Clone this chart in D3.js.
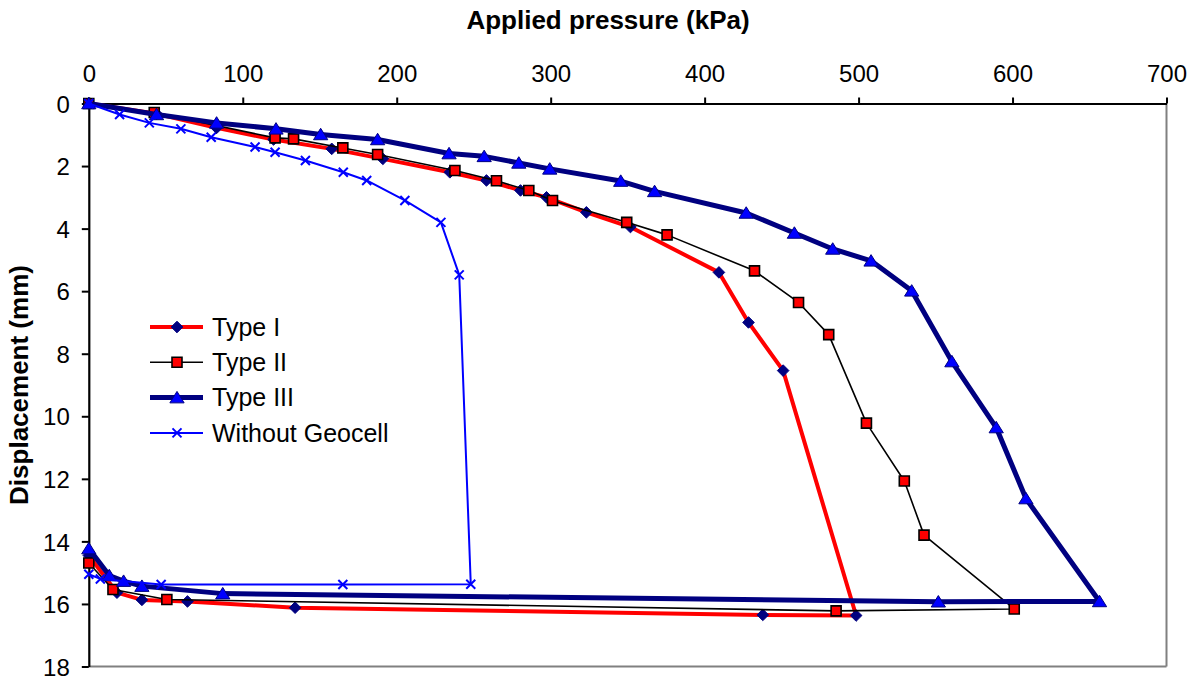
<!DOCTYPE html>
<html>
<head>
<meta charset="utf-8">
<script src="https://cdn.jsdelivr.net/npm/d3@7"></script>
<style>
  html, body { margin: 0; padding: 0; background: #fff; }
  svg { display: block; font-family: "Liberation Sans", Arial, sans-serif; }
</style>
</head>
<body>
<svg id="chart" width="1194" height="682"></svg>
<script>
// Load–displacement curves (loading then unloading)
const seriesNames = ["Type I", "Type II", "Type III", "Without Geocell"];

const typeIPressure = [0, 44, 83, 120, 157.8, 191, 234.5, 258.3, 280.4, 297.3, 323.2, 351.8, 409.3, 428.5, 451, 498.4, 437.8, 134, 64.1, 34.5, 18.3, 0];
const typeIDisp     = [0, 0.33, 0.78, 1.15, 1.45, 1.77, 2.2, 2.46, 2.78, 3.0, 3.48, 3.95, 5.40, 7.0, 8.54, 16.37, 16.35, 16.12, 15.92, 15.87, 15.64, 14.45];

const typeIIPressure = [0, 42.5, 121, 133, 165, 187.6, 237.8, 264.8, 285.8, 301.2, 349.4, 375.6, 432.4, 461, 480.6, 505.1, 529.7, 542.5, 601.1, 485.4, 50.7, 15.7, 0];
const typeIIDisp     = [0, 0.29, 1.10, 1.13, 1.42, 1.63, 2.14, 2.47, 2.78, 3.1, 3.8, 4.2, 5.35, 6.36, 7.39, 10.22, 12.07, 13.8, 16.16, 16.22, 15.86, 15.54, 14.69];

const typeIIIPressure = [0, 44, 83, 121.6, 150.6, 187.6, 234, 256.8, 279.3, 299.4, 345.5, 367.5, 427, 458.3, 483.2, 508.1, 534.5, 560.6, 589.4, 608.7, 656.5, 551.8, 87, 34.5, 22.6, 13.3, 0];
const typeIIIDisp     = [0, 0.35, 0.62, 0.81, 0.99, 1.15, 1.6, 1.69, 1.9, 2.09, 2.48, 2.81, 3.5, 4.14, 4.65, 5.03, 5.99, 8.25, 10.36, 12.63, 15.92, 15.93, 15.67, 15.43, 15.27, 15.09, 14.23];

const noCellPressure = [0, 20, 39.3, 59.8, 79.5, 108, 121, 140.7, 165.3, 180.5, 205.3, 228.7, 240.6, 248.1, 165, 47, 7.5, 0];
const noCellDisp     = [0, 0.35, 0.62, 0.81, 1.08, 1.39, 1.56, 1.82, 2.2, 2.46, 3.1, 3.8, 5.48, 15.37, 15.38, 15.38, 15.2, 15.05];

const pressureTicks = [0, 100, 200, 300, 400, 500, 600, 700];
const dispTicks = [0, 2, 4, 6, 8, 10, 12, 14, 16, 18];

// Plot area bounds
const plotLeft = 88.8, plotRight = 1166.5, plotTop = 103.5, plotBottom = 666.5;

const svg = d3.select("#chart");
const x = d3.scaleLinear().domain([0, 700]).range([plotLeft, plotRight]);
const y = d3.scaleLinear().domain([0, 18]).range([plotTop, plotBottom]);

// Plot frame: grey right / bottom edges
svg.append("line").attr("x1", plotRight).attr("x2", plotRight).attr("y1", plotTop).attr("y2", plotBottom)
  .attr("stroke", "#808080").attr("stroke-width", 2);
svg.append("line").attr("x1", plotLeft).attr("x2", plotRight).attr("y1", plotBottom).attr("y2", plotBottom)
  .attr("stroke", "#808080").attr("stroke-width", 2);

// Axes
const xAxis = d3.axisTop(x).tickValues(pressureTicks).tickSize(6).tickPadding(16).tickSizeOuter(0);
const yAxis = d3.axisLeft(y).tickValues(dispTicks).tickSize(7).tickPadding(12).tickSizeOuter(0);

const gx = svg.append("g").attr("transform", `translate(0,${plotTop})`).call(xAxis);
const gy = svg.append("g").attr("transform", `translate(${plotLeft},0)`).call(yAxis);
[gx, gy].forEach(g => {
  g.select(".domain").attr("stroke", "#000").attr("stroke-width", 2.2);
  g.selectAll(".tick line").attr("stroke", "#000").attr("stroke-width", 2);
  g.selectAll(".tick text").attr("fill", "#000").style("font-size", "24px")
    .style("font-family", "'Liberation Sans', Arial, sans-serif");
});
gx.selectAll(".tick text").attr("dy", "0");
gy.selectAll(".tick text").attr("dy", "0.36em");

// Axis titles
svg.append("text").attr("x", 608).attr("y", 29).attr("text-anchor", "middle")
  .style("font-size", "26px").style("font-weight", "bold").text("Applied pressure (kPa)");
svg.append("text").attr("transform", "translate(28,385) rotate(-90)").attr("text-anchor", "middle")
  .style("font-size", "26px").style("font-weight", "bold").text("Displacement (mm)");

// Marker shapes
function markerPath(kind, s) {
  const p = d3.path();
  if (kind === "diamond") {
    p.moveTo(0, -s); p.lineTo(s, 0); p.lineTo(0, s); p.lineTo(-s, 0); p.closePath();
  } else if (kind === "square") {
    p.rect(-s, -s, 2 * s, 2 * s);
  } else if (kind === "triangle") {
    p.moveTo(0, -s); p.lineTo(s * 1.15, s * 0.85); p.lineTo(-s * 1.15, s * 0.85); p.closePath();
  } else if (kind === "cross") {
    p.moveTo(-s, -s); p.lineTo(s, s); p.moveTo(s, -s); p.lineTo(-s, s);
  }
  return p.toString();
}

const series = [
  { name: seriesNames[0], px: typeIPressure, dy: typeIDisp, line: "#FF0000", lw: 4,
    marker: "diamond", ms: 5.8, fill: "#000080", mstroke: "#000080", msw: 1 },
  { name: seriesNames[1], px: typeIIPressure, dy: typeIIDisp, line: "#000000", lw: 1.6,
    marker: "square", ms: 5, fill: "#FF0000", mstroke: "#000000", msw: 1.6 },
  { name: seriesNames[2], px: typeIIIPressure, dy: typeIIIDisp, line: "#000080", lw: 5,
    marker: "triangle", ms: 6.2, fill: "#0000FF", mstroke: "#000080", msw: 1 },
  { name: seriesNames[3], px: noCellPressure, dy: noCellDisp, line: "#0000FF", lw: 2,
    marker: "cross", ms: 4.5, fill: "none", mstroke: "#0000FF", msw: 2 }
];

const lineGen = d3.line().x(d => x(d[0])).y(d => y(d[1]));

series.forEach(s => {
  const pts = s.px.map((v, i) => [v, s.dy[i]]);
  const g = svg.append("g");
  g.append("path").attr("d", lineGen(pts)).attr("fill", "none")
    .attr("stroke", s.line).attr("stroke-width", s.lw).attr("stroke-linejoin", "round");
  g.selectAll("path.mk").data(pts).join("path").attr("class", "mk")
    .attr("transform", d => `translate(${x(d[0])},${y(d[1])})`)
    .attr("d", markerPath(s.marker, s.ms))
    .attr("fill", s.fill).attr("stroke", s.mstroke).attr("stroke-width", s.msw);
});

// Legend
const legend = svg.append("g").attr("transform", "translate(150,327)");
series.forEach((s, i) => {
  const row = legend.append("g").attr("transform", `translate(0,${i * 35.3})`);
  row.append("line").attr("x1", 0).attr("x2", 53).attr("y1", 0).attr("y2", 0)
    .attr("stroke", s.line).attr("stroke-width", s.lw);
  row.append("path").attr("transform", "translate(27,0)").attr("d", markerPath(s.marker, s.ms))
    .attr("fill", s.fill).attr("stroke", s.mstroke).attr("stroke-width", s.msw);
  row.append("text").attr("x", 62).attr("y", 0).attr("dy", "0.35em")
    .style("font-size", "25px").text(s.name);
});
</script>
</body>
</html>
